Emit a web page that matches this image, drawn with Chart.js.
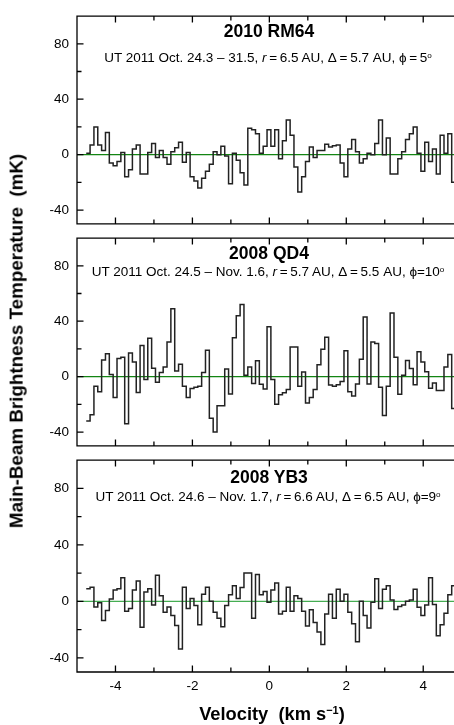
<!DOCTYPE html>
<html>
<head>
<meta charset="utf-8">
<script src="https://cdn.jsdelivr.net/npm/chart.js@4.4.1/dist/chart.umd.min.js"></script>
<style>
  html, body { margin: 0; padding: 0; background: #fff; }
  #wrap { position: relative; width: 454px; height: 725px; overflow: hidden;
          font-family: 'Liberation Sans', Arial, sans-serif; color: #000; }
  canvas { position: absolute; left: 0; }
  .lbl { position: absolute; transform: translate(-50%, -50%); white-space: pre; line-height: 1; z-index: 5; }
  .name { font-weight: bold; font-size: 17.5px; }
  .sub { font-size: 13.5px; }
  .axt { font-weight: bold; font-size: 18.3px; }
  sup { font-size: 0.6em; vertical-align: 0.55em; line-height: 0; }
</style>
</head>
<body>
<div id="wrap">
  <canvas id="p1" width="454" height="240" style="top:0px"></canvas>
  <canvas id="p2" width="454" height="240" style="top:222px"></canvas>
  <canvas id="p3" width="454" height="281" style="top:444px"></canvas>

  <div class="lbl name" style="left:269px; top:32px">2010 RM64</div>
  <div class="lbl sub" style="left:268px; top:58px">UT 2011 Oct. 24.3 – 31.5, <i>r</i>&thinsp;=&thinsp;6.5 AU, Δ&thinsp;=&thinsp;5.7 AU, ϕ&thinsp;=&thinsp;5<sup>o</sup></div>

  <div class="lbl name" style="left:269px; top:254px">2008 QD4</div>
  <div class="lbl sub" style="left:268px; top:272px">UT 2011 Oct. 24.5 – Nov. 1.6, <i>r</i>&thinsp;=&thinsp;5.7 AU, Δ&thinsp;=&thinsp;5.5 AU, ϕ=10<sup>o</sup></div>

  <div class="lbl name" style="left:269px; top:478px">2008 YB3</div>
  <div class="lbl sub" style="left:268px; top:497px">UT 2011 Oct. 24.6 – Nov. 1.7, <i>r</i>&thinsp;=&thinsp;6.6 AU, Δ&thinsp;=&thinsp;6.5 AU, ϕ=9<sup>o</sup></div>

  <div class="lbl axt" style="left:17px; top:341px; font-size:18.8px; transform: translate(-50%, -50%) rotate(-90deg)">Main-Beam Brightness Temperature  (mK)</div>
  <div class="lbl axt" style="left:272px; top:714px">Velocity  (km s<sup>−1</sup>)</div>
</div>

<script>
// channel grid (km/s)
const velStart = -4.76;
const chanWidth = 0.1;

// axis ticks
const xTickValues = [-4, -3, -2, -1, 0, 1, 2, 3, 4];
const xTickLabels = ['-4', '', '-2', '', '0', '', '2', '', '4'];
const yTickValues = [-40, -20, 0, 20, 40, 60, 80];
const yTickLabels = ['-40', '', '0', '', '40', '', '80'];

// main-beam brightness temperature per channel (mK)
const rm64 = [
  1, 7, 20, 7, 3, 16, -6, -8, -5, 1.5,
  -16, -11, 4, 7, -14, -14, 1.5, 8, -2, 3,
  -2, -7, 2, 5, 9, -5.5, 1.5, -16, -19, -24,
  -17, -12, -7, 2, 0, 6, -1, -21, 1, -4,
  -13, -22, 19, 18, 15, 1, 6, 18, 6, 18,
  -3, 10, 25, 14, -9, -27, -16, -5, 5.5, -2,
  3, 3, 7.5, 5.5, 6.5, 7, -6, -16, 4, 11,
  2, -6, -3, 1, 0, 8, 25, 0, 12, -14,
  -14, -3, 2, 11, 15, 20, 1, -12, 9, -5,
  4, -14, 14, 1, 15, -20
];
const qd4 = [
  -32, -27.5, -7, -11, 12, 16.5, 1.5, -15, 13, 14,
  -34, 17, 10.5, -11.5, 22.5, -2, 27.7, 6, -4, 3,
  7, 25, 49, 4, 9, -7, -15, -8.5, -7.7, -7,
  3, 19, -30, -40, -21, -21, 5.5, -12.5, 28, 44,
  52, 1, 7, -5, 11.5, -5.5, -9, 36, -2, -20,
  -13, -11.6, -9.3, 21.4, 21.4, -7, 3.3, -19, -15, -9.3,
  8.6, 19.8, 28.4, -6, -7, -5.8, -3.5, 18.6, -11, -14,
  -5.3, 12.5, 43, -5.3, 25, 24, -7.7, -28, -7, 46,
  14, -12.8, 1, 11.6, 5.8, -5.8, 18, 10.5, 3.5, -8.4,
  -4.6, -10, -10, 7, 16, -23
];
const yb3 = [
  9, 10, -4, -1, -13.5, -6.5, 1.6, 8, 9, 16.7,
  -7, -5, 8, 14.4, -18.4, 6.7, 9, -2.6, 18.4, 4,
  -7.7, -4, -10, -17, -33.7, 10, -5, 2, -3, -16.5,
  5, 10, 0, -7.7, -12, -18, -3, 4.7, 11, 2,
  9.8, 20, 20, -12, 19, 4.7, 7, -0.7, 8, 13,
  -9, -7, 10, -7, 4, 2, -7, -17.4, -6, -15,
  -21.6, -30.5, -9, 5, -12, 8.6, 0, 5, -7.7, -15.8,
  -28.6, 0, -10, -18.8, -0.7, 16, -5, 8.6, 11, 1,
  -5.8, -3.7, -2.6, 0, 1, 8.6, -4.2, -10, -2.6, 16.7,
  -2.3, -24.4, -16.5, -8.4, 4.7, 11
];

const tickFont = { family: "'Liberation Sans', Arial, sans-serif", size: 13.5 };

// box + inward tick marks
const framePlugin = {
  id: 'frame',
  afterDatasetsDraw(chart) {
    const { ctx, chartArea: a, scales: { x, y } } = chart;
    ctx.save();
    ctx.strokeStyle = '#000';
    ctx.lineWidth = 1.3;
    ctx.beginPath();
    ctx.moveTo(a.right, a.top);
    ctx.lineTo(a.left, a.top);
    ctx.lineTo(a.left, a.bottom);
    ctx.lineTo(a.right, a.bottom);
    xTickValues.forEach((v, i) => {
      const px = x.getPixelForValue(v);
      const len = xTickLabels[i] ? 6.5 : 4.5;
      ctx.moveTo(px, a.top); ctx.lineTo(px, a.top + len);
      ctx.moveTo(px, a.bottom); ctx.lineTo(px, a.bottom - len);
    });
    yTickValues.forEach((v, i) => {
      const py = y.getPixelForValue(v);
      const len = yTickLabels[i] ? 6.5 : 4.5;
      ctx.moveTo(a.left, py); ctx.lineTo(a.left + len, py);
    });
    ctx.stroke();
    ctx.restore();
  }
};

function makePanel(id, values, zeroColor, showX) {
  const pts = values.map((t, i) => ({ x: velStart + i * chanWidth, y: t }));
  pts.push({ x: velStart + values.length * chanWidth, y: values[values.length - 1] });

  return new Chart(document.getElementById(id), {
    type: 'line',
    data: {
      datasets: [
        { data: pts, stepped: 'before', borderColor: '#222', borderWidth: 1.5, pointRadius: 0, fill: false },
        { data: [{ x: -5, y: 0 }, { x: 4.8, y: 0 }], borderColor: zeroColor, borderWidth: 1.2, pointRadius: 0 }
      ]
    },
    options: {
      responsive: false,
      animation: false,
      events: [],
      layout: { padding: { top: 12, bottom: showX ? 0 : 12, left: 0, right: 0 } },
      plugins: { legend: { display: false }, tooltip: { enabled: false } },
      scales: {
        x: {
          type: 'linear', min: -5, max: 4.8, display: showX,
          grid: { display: false, drawTicks: false },
          border: { display: false },
          afterBuildTicks: (s) => { s.ticks = xTickValues.map(v => ({ value: v })); },
          afterFit: (s) => { if (showX) s.height = 53; },
          ticks: { padding: 6, maxRotation: 0, autoSkip: false, color: '#000', font: tickFont,
                   callback: (v, i) => xTickLabels[i] }
        },
        y: {
          type: 'linear', min: -50, max: 100,
          grid: { display: false, drawTicks: false },
          border: { display: false },
          afterBuildTicks: (s) => { s.ticks = yTickValues.map(v => ({ value: v })); },
          afterFit: (s) => { s.width = 77; },
          ticks: { padding: 8, autoSkip: false, color: '#000', font: tickFont,
                   callback: (v, i) => yTickLabels[i] }
        }
      }
    },
    plugins: [framePlugin]
  });
}

makePanel('p1', rm64, '#138513', false);
makePanel('p2', qd4, '#138513', false);
makePanel('p3', yb3, '#45ad52', true);
</script>
</body>
</html>
